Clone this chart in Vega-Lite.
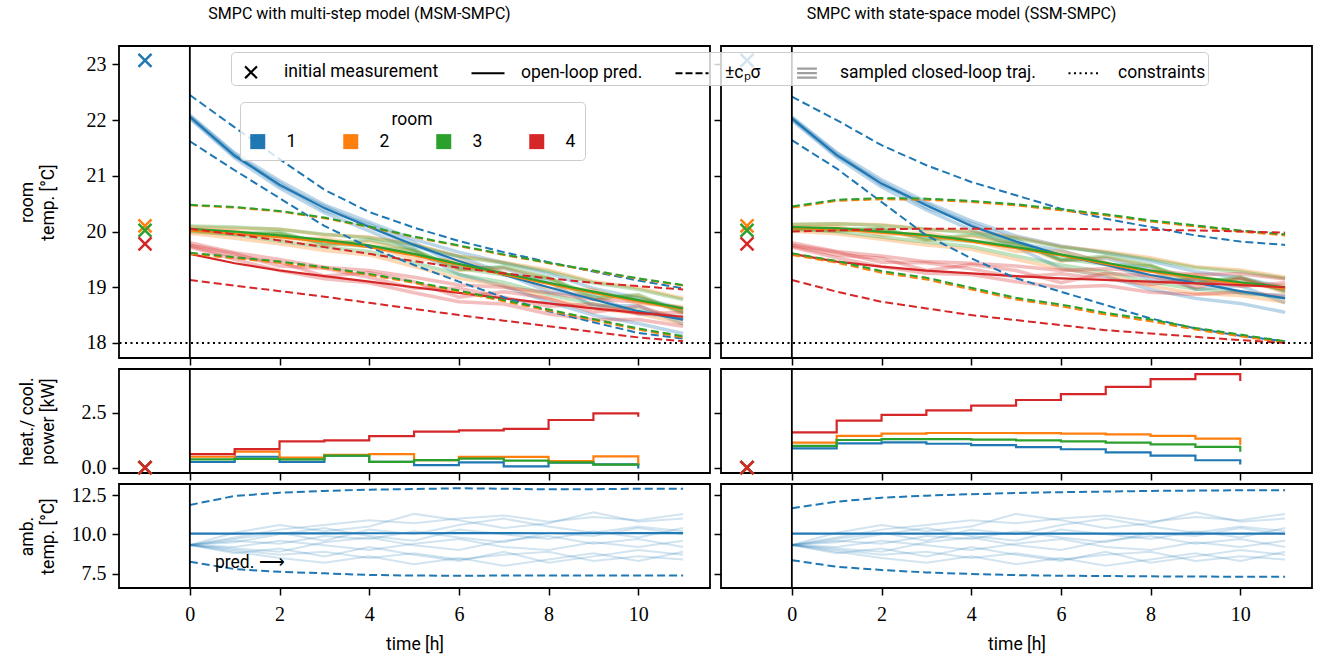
{
"$schema": "https://vega.github.io/schema/vega-lite/v6.json",
"padding": {"left": 17, "top": 5, "right": 2, "bottom": 2},
"datasets": {
"room": [
{"p":"M","r":"1","t":0,"m":22.06,"lo":21.62,"hi":22.45,"s1":22.09,"s2":22.03,"s3":22.07,"s4":22.05},
{"p":"M","r":"1","t":1,"m":21.36,"lo":21.1,"hi":21.87,"s1":21.41,"s2":21.32,"s3":21.39,"s4":21.35},
{"p":"M","r":"1","t":2,"m":20.84,"lo":20.6,"hi":21.3,"s1":20.91,"s2":20.78,"s3":20.82,"s4":20.87},
{"p":"M","r":"1","t":3,"m":20.42,"lo":20.1,"hi":20.75,"s1":20.48,"s2":20.34,"s3":20.45,"s4":20.38},
{"p":"M","r":"1","t":4,"m":20.08,"lo":19.72,"hi":20.35,"s1":20.17,"s2":20.01,"s3":20.09,"s4":20.13},
{"p":"M","r":"1","t":5,"m":19.76,"lo":19.4,"hi":20.07,"s1":19.86,"s2":19.66,"s3":19.73,"s4":19.8},
{"p":"M","r":"1","t":6,"m":19.47,"lo":19.1,"hi":19.83,"s1":19.63,"s2":19.23,"s3":19.55,"s4":19.37},
{"p":"M","r":"1","t":7,"m":19.22,"lo":18.82,"hi":19.63,"s1":19.44,"s2":19.02,"s3":19.25,"s4":19.34},
{"p":"M","r":"1","t":8,"m":19.0,"lo":18.57,"hi":19.45,"s1":19.25,"s2":18.74,"s3":18.92,"s4":19.1},
{"p":"M","r":"1","t":9,"m":18.78,"lo":18.37,"hi":19.28,"s1":18.98,"s2":18.5,"s3":18.84,"s4":18.66},
{"p":"M","r":"1","t":10,"m":18.57,"lo":18.18,"hi":19.12,"s1":18.81,"s2":18.35,"s3":18.53,"s4":18.67},
{"p":"M","r":"1","t":11,"m":18.42,"lo":18.08,"hi":18.98,"s1":18.62,"s2":18.17,"s3":18.47,"s4":18.34},
{"p":"M","r":"2","t":0,"m":20.02,"lo":19.6,"hi":20.47,"s1":20.08,"s2":19.97,"s3":20.04,"s4":20.0},
{"p":"M","r":"2","t":1,"m":19.96,"lo":19.52,"hi":20.43,"s1":20.06,"s2":19.88,"s3":20.01,"s4":19.94},
{"p":"M","r":"2","t":2,"m":19.9,"lo":19.44,"hi":20.36,"s1":20.04,"s2":19.78,"s3":19.86,"s4":19.96},
{"p":"M","r":"2","t":3,"m":19.82,"lo":19.34,"hi":20.24,"s1":19.94,"s2":19.66,"s3":19.88,"s4":19.74},
{"p":"M","r":"2","t":4,"m":19.72,"lo":19.22,"hi":20.08,"s1":19.9,"s2":19.58,"s3":19.74,"s4":19.82},
{"p":"M","r":"2","t":5,"m":19.57,"lo":19.08,"hi":19.9,"s1":19.77,"s2":19.37,"s3":19.51,"s4":19.65},
{"p":"M","r":"2","t":6,"m":19.4,"lo":18.92,"hi":19.74,"s1":19.56,"s2":19.16,"s3":19.48,"s4":19.3},
{"p":"M","r":"2","t":7,"m":19.23,"lo":18.75,"hi":19.58,"s1":19.45,"s2":19.03,"s3":19.26,"s4":19.35},
{"p":"M","r":"2","t":8,"m":19.06,"lo":18.58,"hi":19.43,"s1":19.31,"s2":18.8,"s3":18.98,"s4":19.16},
{"p":"M","r":"2","t":9,"m":18.9,"lo":18.41,"hi":19.29,"s1":19.1,"s2":18.62,"s3":18.96,"s4":18.78},
{"p":"M","r":"2","t":10,"m":18.75,"lo":18.24,"hi":19.15,"s1":18.99,"s2":18.53,"s3":18.71,"s4":18.85},
{"p":"M","r":"2","t":11,"m":18.6,"lo":18.1,"hi":19.03,"s1":18.8,"s2":18.35,"s3":18.65,"s4":18.52},
{"p":"M","r":"3","t":0,"m":20.05,"lo":19.62,"hi":20.48,"s1":20.03,"s2":20.03,"s3":20.1,"s4":20.01},
{"p":"M","r":"3","t":1,"m":20.0,"lo":19.54,"hi":20.44,"s1":19.98,"s2":19.95,"s3":20.08,"s4":19.94},
{"p":"M","r":"3","t":2,"m":19.93,"lo":19.46,"hi":20.37,"s1":19.99,"s2":19.97,"s3":20.04,"s4":19.83},
{"p":"M","r":"3","t":3,"m":19.85,"lo":19.36,"hi":20.25,"s1":19.77,"s2":19.79,"s3":19.95,"s4":19.72},
{"p":"M","r":"3","t":4,"m":19.75,"lo":19.24,"hi":20.09,"s1":19.85,"s2":19.73,"s3":19.89,"s4":19.64},
{"p":"M","r":"3","t":5,"m":19.6,"lo":19.1,"hi":19.91,"s1":19.68,"s2":19.66,"s3":19.76,"s4":19.44},
{"p":"M","r":"3","t":6,"m":19.42,"lo":18.94,"hi":19.75,"s1":19.32,"s2":19.34,"s3":19.55,"s4":19.23},
{"p":"M","r":"3","t":7,"m":19.25,"lo":18.77,"hi":19.59,"s1":19.37,"s2":19.22,"s3":19.43,"s4":19.09},
{"p":"M","r":"3","t":8,"m":19.08,"lo":18.6,"hi":19.44,"s1":19.18,"s2":19.16,"s3":19.28,"s4":18.87},
{"p":"M","r":"3","t":9,"m":18.92,"lo":18.43,"hi":19.3,"s1":18.8,"s2":18.86,"s3":19.08,"s4":18.7},
{"p":"M","r":"3","t":10,"m":18.77,"lo":18.26,"hi":19.16,"s1":18.87,"s2":18.81,"s3":18.96,"s4":18.59},
{"p":"M","r":"3","t":11,"m":18.62,"lo":18.12,"hi":19.04,"s1":18.54,"s2":18.57,"s3":18.78,"s4":18.42},
{"p":"M","r":"4","t":0,"m":19.6,"lo":19.13,"hi":20.05,"s1":19.8,"s2":19.72,"s3":19.76,"s4":19.74},
{"p":"M","r":"4","t":1,"m":19.43,"lo":19.03,"hi":19.95,"s1":19.62,"s2":19.5,"s3":19.6,"s4":19.55},
{"p":"M","r":"4","t":2,"m":19.3,"lo":18.93,"hi":19.84,"s1":19.5,"s2":19.3,"s3":19.38,"s4":19.45},
{"p":"M","r":"4","t":3,"m":19.2,"lo":18.83,"hi":19.72,"s1":19.36,"s2":19.15,"s3":19.34,"s4":19.2},
{"p":"M","r":"4","t":4,"m":19.1,"lo":18.72,"hi":19.6,"s1":19.3,"s2":19.08,"s3":19.18,"s4":19.26},
{"p":"M","r":"4","t":5,"m":19.0,"lo":18.61,"hi":19.47,"s1":19.18,"s2":18.9,"s3":18.98,"s4":19.1},
{"p":"M","r":"4","t":6,"m":18.9,"lo":18.5,"hi":19.35,"s1":19.04,"s2":18.74,"s3":18.98,"s4":18.82},
{"p":"M","r":"4","t":7,"m":18.8,"lo":18.4,"hi":19.25,"s1":19.0,"s2":18.7,"s3":18.82,"s4":18.92},
{"p":"M","r":"4","t":8,"m":18.71,"lo":18.3,"hi":19.16,"s1":18.9,"s2":18.52,"s3":18.66,"s4":18.8},
{"p":"M","r":"4","t":9,"m":18.62,"lo":18.2,"hi":19.08,"s1":18.78,"s2":18.42,"s3":18.7,"s4":18.55},
{"p":"M","r":"4","t":10,"m":18.54,"lo":18.1,"hi":19.02,"s1":18.74,"s2":18.42,"s3":18.52,"s4":18.66},
{"p":"M","r":"4","t":11,"m":18.47,"lo":18.03,"hi":18.96,"s1":18.62,"s2":18.3,"s3":18.55,"s4":18.42},
{"p":"S","r":"1","t":0,"m":22.03,"lo":21.64,"hi":22.42,"s1":22.06,"s2":22.0,"s3":22.04,"s4":22.02},
{"p":"S","r":"1","t":1,"m":21.37,"lo":21.13,"hi":22.0,"s1":21.42,"s2":21.33,"s3":21.4,"s4":21.36},
{"p":"S","r":"1","t":2,"m":20.86,"lo":20.53,"hi":21.55,"s1":20.93,"s2":20.8,"s3":20.84,"s4":20.89},
{"p":"S","r":"1","t":3,"m":20.47,"lo":19.93,"hi":21.19,"s1":20.53,"s2":20.39,"s3":20.5,"s4":20.43},
{"p":"S","r":"1","t":4,"m":20.1,"lo":19.52,"hi":20.89,"s1":20.19,"s2":20.03,"s3":20.11,"s4":20.15},
{"p":"S","r":"1","t":5,"m":19.82,"lo":19.16,"hi":20.65,"s1":19.92,"s2":19.72,"s3":19.79,"s4":19.86},
{"p":"S","r":"1","t":6,"m":19.58,"lo":18.92,"hi":20.41,"s1":19.74,"s2":19.34,"s3":19.66,"s4":19.48},
{"p":"S","r":"1","t":7,"m":19.4,"lo":18.68,"hi":20.23,"s1":19.62,"s2":19.2,"s3":19.43,"s4":19.52},
{"p":"S","r":"1","t":8,"m":19.22,"lo":18.44,"hi":20.08,"s1":19.47,"s2":18.96,"s3":19.14,"s4":19.32},
{"p":"S","r":"1","t":9,"m":19.08,"lo":18.26,"hi":19.93,"s1":19.28,"s2":18.8,"s3":19.14,"s4":18.96},
{"p":"S","r":"1","t":10,"m":18.93,"lo":18.13,"hi":19.82,"s1":19.17,"s2":18.71,"s3":18.89,"s4":19.03},
{"p":"S","r":"1","t":11,"m":18.8,"lo":18.03,"hi":19.76,"s1":19.0,"s2":18.55,"s3":18.85,"s4":18.72},
{"p":"S","r":"2","t":0,"m":20.06,"lo":19.58,"hi":20.43,"s1":20.12,"s2":20.01,"s3":20.08,"s4":20.04},
{"p":"S","r":"2","t":1,"m":20.04,"lo":19.44,"hi":20.55,"s1":20.14,"s2":19.96,"s3":20.09,"s4":20.02},
{"p":"S","r":"2","t":2,"m":19.98,"lo":19.26,"hi":20.58,"s1":20.12,"s2":19.86,"s3":19.94,"s4":20.04},
{"p":"S","r":"2","t":3,"m":19.92,"lo":19.14,"hi":20.57,"s1":20.04,"s2":19.76,"s3":19.98,"s4":19.84},
{"p":"S","r":"2","t":4,"m":19.82,"lo":18.96,"hi":20.53,"s1":20.0,"s2":19.68,"s3":19.84,"s4":19.92},
{"p":"S","r":"2","t":5,"m":19.7,"lo":18.78,"hi":20.47,"s1":19.9,"s2":19.5,"s3":19.64,"s4":19.78},
{"p":"S","r":"2","t":6,"m":19.57,"lo":18.66,"hi":20.38,"s1":19.73,"s2":19.33,"s3":19.65,"s4":19.47},
{"p":"S","r":"2","t":7,"m":19.42,"lo":18.51,"hi":20.29,"s1":19.64,"s2":19.22,"s3":19.45,"s4":19.54},
{"p":"S","r":"2","t":8,"m":19.28,"lo":18.39,"hi":20.18,"s1":19.53,"s2":19.02,"s3":19.2,"s4":19.38},
{"p":"S","r":"2","t":9,"m":19.17,"lo":18.24,"hi":20.09,"s1":19.37,"s2":18.89,"s3":19.23,"s4":19.05},
{"p":"S","r":"2","t":10,"m":19.07,"lo":18.12,"hi":20.0,"s1":19.31,"s2":18.85,"s3":19.03,"s4":19.17},
{"p":"S","r":"2","t":11,"m":18.98,"lo":18.01,"hi":19.93,"s1":19.18,"s2":18.73,"s3":19.03,"s4":18.9},
{"p":"S","r":"3","t":0,"m":20.08,"lo":19.61,"hi":20.45,"s1":20.06,"s2":20.06,"s3":20.13,"s4":20.04},
{"p":"S","r":"3","t":1,"m":20.06,"lo":19.47,"hi":20.57,"s1":20.04,"s2":20.01,"s3":20.14,"s4":20.0},
{"p":"S","r":"3","t":2,"m":20.0,"lo":19.29,"hi":20.6,"s1":20.06,"s2":20.04,"s3":20.11,"s4":19.9},
{"p":"S","r":"3","t":3,"m":19.94,"lo":19.17,"hi":20.59,"s1":19.86,"s2":19.88,"s3":20.04,"s4":19.81},
{"p":"S","r":"3","t":4,"m":19.84,"lo":18.99,"hi":20.55,"s1":19.94,"s2":19.82,"s3":19.98,"s4":19.73},
{"p":"S","r":"3","t":5,"m":19.72,"lo":18.81,"hi":20.49,"s1":19.8,"s2":19.78,"s3":19.88,"s4":19.56},
{"p":"S","r":"3","t":6,"m":19.59,"lo":18.69,"hi":20.4,"s1":19.49,"s2":19.51,"s3":19.72,"s4":19.4},
{"p":"S","r":"3","t":7,"m":19.44,"lo":18.54,"hi":20.31,"s1":19.56,"s2":19.41,"s3":19.62,"s4":19.28},
{"p":"S","r":"3","t":8,"m":19.3,"lo":18.42,"hi":20.2,"s1":19.4,"s2":19.38,"s3":19.5,"s4":19.09},
{"p":"S","r":"3","t":9,"m":19.19,"lo":18.27,"hi":20.11,"s1":19.07,"s2":19.13,"s3":19.35,"s4":18.97},
{"p":"S","r":"3","t":10,"m":19.09,"lo":18.15,"hi":20.02,"s1":19.19,"s2":19.13,"s3":19.28,"s4":18.91},
{"p":"S","r":"3","t":11,"m":19.0,"lo":18.03,"hi":19.95,"s1":18.92,"s2":18.95,"s3":19.16,"s4":18.8},
{"p":"S","r":"4","t":0,"m":19.6,"lo":19.13,"hi":20.0,"s1":19.8,"s2":19.72,"s3":19.76,"s4":19.74},
{"p":"S","r":"4","t":1,"m":19.46,"lo":18.92,"hi":20.02,"s1":19.64,"s2":19.53,"s3":19.63,"s4":19.58},
{"p":"S","r":"4","t":2,"m":19.37,"lo":18.74,"hi":20.04,"s1":19.56,"s2":19.37,"s3":19.45,"s4":19.52},
{"p":"S","r":"4","t":3,"m":19.3,"lo":18.62,"hi":20.05,"s1":19.46,"s2":19.25,"s3":19.44,"s4":19.3},
{"p":"S","r":"4","t":4,"m":19.25,"lo":18.5,"hi":20.05,"s1":19.43,"s2":19.23,"s3":19.33,"s4":19.41},
{"p":"S","r":"4","t":5,"m":19.2,"lo":18.41,"hi":20.05,"s1":19.38,"s2":19.1,"s3":19.18,"s4":19.3},
{"p":"S","r":"4","t":6,"m":19.16,"lo":18.32,"hi":20.05,"s1":19.3,"s2":19.0,"s3":19.24,"s4":19.08},
{"p":"S","r":"4","t":7,"m":19.13,"lo":18.23,"hi":20.04,"s1":19.33,"s2":19.03,"s3":19.15,"s4":19.25},
{"p":"S","r":"4","t":8,"m":19.1,"lo":18.17,"hi":20.03,"s1":19.29,"s2":18.91,"s3":19.05,"s4":19.2},
{"p":"S","r":"4","t":9,"m":19.07,"lo":18.11,"hi":20.02,"s1":19.23,"s2":18.87,"s3":19.15,"s4":18.99},
{"p":"S","r":"4","t":10,"m":19.04,"lo":18.05,"hi":20.0,"s1":19.24,"s2":18.92,"s3":19.02,"s4":19.16},
{"p":"S","r":"4","t":11,"m":19.0,"lo":18.0,"hi":19.98,"s1":19.15,"s2":18.83,"s3":19.08,"s4":18.95}
],
"pow": [
{"p":"M","r":"1","t":0,"u":0.26},{"p":"M","r":"1","t":1,"u":0.5},{"p":"M","r":"1","t":2,"u":0.27},{"p":"M","r":"1","t":3,"u":0.55},{"p":"M","r":"1","t":4,"u":0.27},{"p":"M","r":"1","t":5,"u":0.12},{"p":"M","r":"1","t":6,"u":0.24},{"p":"M","r":"1","t":7,"u":0.06},{"p":"M","r":"1","t":8,"u":0.23},{"p":"M","r":"1","t":9,"u":0.15},{"p":"M","r":"1","t":10,"u":-0.03},
{"p":"M","r":"2","t":0,"u":0.5},{"p":"M","r":"2","t":1,"u":0.73},{"p":"M","r":"2","t":2,"u":0.46},{"p":"M","r":"2","t":3,"u":0.58},{"p":"M","r":"2","t":4,"u":0.62},{"p":"M","r":"2","t":5,"u":0.35},{"p":"M","r":"2","t":6,"u":0.49},{"p":"M","r":"2","t":7,"u":0.49},{"p":"M","r":"2","t":8,"u":0.3},{"p":"M","r":"2","t":9,"u":0.52},{"p":"M","r":"2","t":10,"u":0.12},
{"p":"M","r":"3","t":0,"u":0.38},{"p":"M","r":"3","t":1,"u":0.4},{"p":"M","r":"3","t":2,"u":0.38},{"p":"M","r":"3","t":3,"u":0.55},{"p":"M","r":"3","t":4,"u":0.27},{"p":"M","r":"3","t":5,"u":0.35},{"p":"M","r":"3","t":6,"u":0.41},{"p":"M","r":"3","t":7,"u":0.32},{"p":"M","r":"3","t":8,"u":0.24},{"p":"M","r":"3","t":9,"u":0.14},{"p":"M","r":"3","t":10,"u":0.1},
{"p":"M","r":"4","t":0,"u":0.62},{"p":"M","r":"4","t":1,"u":0.85},{"p":"M","r":"4","t":2,"u":1.2},{"p":"M","r":"4","t":3,"u":1.24},{"p":"M","r":"4","t":4,"u":1.44},{"p":"M","r":"4","t":5,"u":1.64},{"p":"M","r":"4","t":6,"u":1.7},{"p":"M","r":"4","t":7,"u":1.77},{"p":"M","r":"4","t":8,"u":2.17},{"p":"M","r":"4","t":9,"u":2.47},{"p":"M","r":"4","t":10,"u":2.32},
{"p":"S","r":"1","t":0,"u":0.88},{"p":"S","r":"1","t":1,"u":1.11},{"p":"S","r":"1","t":2,"u":1.15},{"p":"S","r":"1","t":3,"u":1.09},{"p":"S","r":"1","t":4,"u":1.03},{"p":"S","r":"1","t":5,"u":0.94},{"p":"S","r":"1","t":6,"u":0.84},{"p":"S","r":"1","t":7,"u":0.7},{"p":"S","r":"1","t":8,"u":0.55},{"p":"S","r":"1","t":9,"u":0.34},{"p":"S","r":"1","t":10,"u":0.15},
{"p":"S","r":"2","t":0,"u":1.14},{"p":"S","r":"2","t":1,"u":1.45},{"p":"S","r":"2","t":2,"u":1.55},{"p":"S","r":"2","t":3,"u":1.58},{"p":"S","r":"2","t":4,"u":1.58},{"p":"S","r":"2","t":5,"u":1.57},{"p":"S","r":"2","t":6,"u":1.55},{"p":"S","r":"2","t":7,"u":1.52},{"p":"S","r":"2","t":8,"u":1.45},{"p":"S","r":"2","t":9,"u":1.32},{"p":"S","r":"2","t":10,"u":1.03},
{"p":"S","r":"3","t":0,"u":0.99},{"p":"S","r":"3","t":1,"u":1.26},{"p":"S","r":"3","t":2,"u":1.3},{"p":"S","r":"3","t":3,"u":1.3},{"p":"S","r":"3","t":4,"u":1.28},{"p":"S","r":"3","t":5,"u":1.24},{"p":"S","r":"3","t":6,"u":1.2},{"p":"S","r":"3","t":7,"u":1.14},{"p":"S","r":"3","t":8,"u":1.06},{"p":"S","r":"3","t":9,"u":0.95},{"p":"S","r":"3","t":10,"u":0.73},
{"p":"S","r":"4","t":0,"u":1.61},{"p":"S","r":"4","t":1,"u":2.14},{"p":"S","r":"4","t":2,"u":2.4},{"p":"S","r":"4","t":3,"u":2.61},{"p":"S","r":"4","t":4,"u":2.82},{"p":"S","r":"4","t":5,"u":3.08},{"p":"S","r":"4","t":6,"u":3.35},{"p":"S","r":"4","t":7,"u":3.68},{"p":"S","r":"4","t":8,"u":4.03},{"p":"S","r":"4","t":9,"u":4.26},{"p":"S","r":"4","t":10,"u":3.94}
],
"amb": [
{"p":"M","t":0,"m":10.05,"lo":8.26,"hi":11.87},{"p":"M","t":1,"m":10.05,"lo":7.79,"hi":12.44},{"p":"M","t":2,"m":10.06,"lo":7.62,"hi":12.65},{"p":"M","t":3,"m":10.06,"lo":7.52,"hi":12.76},{"p":"M","t":4,"m":10.07,"lo":7.42,"hi":12.84},{"p":"M","t":5,"m":10.07,"lo":7.38,"hi":12.88},{"p":"M","t":6,"m":10.08,"lo":7.37,"hi":12.93},{"p":"M","t":7,"m":10.08,"lo":7.38,"hi":12.9},{"p":"M","t":8,"m":10.07,"lo":7.38,"hi":12.86},{"p":"M","t":9,"m":10.07,"lo":7.38,"hi":12.87},{"p":"M","t":10,"m":10.08,"lo":7.39,"hi":12.9},{"p":"M","t":11,"m":10.08,"lo":7.39,"hi":12.9},
{"p":"S","t":0,"m":10.05,"lo":8.36,"hi":11.66},{"p":"S","t":1,"m":10.05,"lo":7.94,"hi":12.08},{"p":"S","t":2,"m":10.05,"lo":7.73,"hi":12.33},{"p":"S","t":3,"m":10.05,"lo":7.58,"hi":12.46},{"p":"S","t":4,"m":10.05,"lo":7.48,"hi":12.55},{"p":"S","t":5,"m":10.05,"lo":7.41,"hi":12.63},{"p":"S","t":6,"m":10.05,"lo":7.37,"hi":12.68},{"p":"S","t":7,"m":10.05,"lo":7.35,"hi":12.72},{"p":"S","t":8,"m":10.05,"lo":7.33,"hi":12.76},{"p":"S","t":9,"m":10.05,"lo":7.32,"hi":12.78},{"p":"S","t":10,"m":10.05,"lo":7.3,"hi":12.8},{"p":"S","t":11,"m":10.05,"lo":7.3,"hi":12.8}
],
"ambs": [
{"t":0,"s1":9.32,"s2":9.32,"s3":9.32,"s4":9.32,"s5":9.32,"s6":9.32,"s7":9.32,"s8":9.32,"s9":9.32,"s10":9.32},
{"t":1,"s1":9.8,"s2":9.0,"s3":9.6,"s4":9.2,"s5":10.1,"s6":8.8,"s7":9.5,"s8":9.1,"s9":9.7,"s10":8.9},
{"t":2,"s1":10.3,"s2":8.7,"s3":9.4,"s4":9.6,"s5":10.6,"s6":9.1,"s7":10.0,"s8":8.9,"s9":10.1,"s10":8.5},
{"t":3,"s1":10.6,"s2":8.9,"s3":9.9,"s4":9.3,"s5":10.2,"s6":8.6,"s7":10.4,"s8":9.5,"s9":9.6,"s10":8.2},
{"t":4,"s1":10.9,"s2":8.5,"s3":9.7,"s4":9.0,"s5":10.5,"s6":9.2,"s7":9.9,"s8":9.8,"s9":10.3,"s10":8.6},
{"t":5,"s1":10.7,"s2":8.8,"s3":10.2,"s4":9.4,"s5":11.3,"s6":8.7,"s7":9.6,"s8":9.3,"s9":10.0,"s10":8.1},
{"t":6,"s1":11.0,"s2":8.4,"s3":9.8,"s4":9.7,"s5":10.9,"s6":8.3,"s7":10.3,"s8":9.0,"s9":10.6,"s10":8.5},
{"t":7,"s1":11.2,"s2":8.7,"s3":9.5,"s4":9.2,"s5":10.4,"s6":8.9,"s7":10.0,"s8":9.6,"s9":11.0,"s10":8.0},
{"t":8,"s1":10.8,"s2":8.9,"s3":10.1,"s4":9.0,"s5":10.7,"s6":8.2,"s7":9.7,"s8":9.9,"s9":10.5,"s10":8.4},
{"t":9,"s1":11.1,"s2":8.3,"s3":9.9,"s4":9.5,"s5":11.4,"s6":8.6,"s7":10.2,"s8":9.4,"s9":10.1,"s10":8.8},
{"t":10,"s1":10.9,"s2":8.6,"s3":10.4,"s4":9.2,"s5":10.8,"s6":9.0,"s7":9.8,"s8":9.7,"s9":10.5,"s10":8.3},
{"t":11,"s1":11.3,"s2":8.4,"s3":10.0,"s4":9.6,"s5":11.0,"s6":8.7,"s7":10.4,"s8":9.2,"s9":10.2,"s10":8.9}
],
"init": [
{"p":"M","r":"1","T":23.07,"U":0},{"p":"M","r":"2","T":20.1,"U":0},{"p":"M","r":"3","T":20.02,"U":0},{"p":"M","r":"4","T":19.78,"U":0},
{"p":"S","r":"1","T":23.07,"U":0},{"p":"S","r":"2","T":20.1,"U":0},{"p":"S","r":"3","T":20.02,"U":0},{"p":"S","r":"4","T":19.78,"U":0}
]
},
"concat": [
{
"width": 591, "height": 312,
"title": {"text": "SMPC with multi-step model (MSM-SMPC)", "dx": -55, "offset": 10, "baseline": "alphabetic"},
"layer": [
{"data": {"name": "init"}, "transform": [{"filter": "datum.p==='M'"}],
 "mark": {"type": "square", "size": 225, "opacity": 0},
 "encoding": {
  "x": {"datum": -1, "type": "quantitative", "scale": {"domain": [-1.58, 11.6], "nice": false, "zero": false}, "axis": {"values": [0,2,4,6,8,10], "labels": false, "title": null}},
  "y": {"field": "T", "type": "quantitative", "scale": {"domain": [17.73, 23.33], "nice": false, "zero": false}, "axis": {"values": [18,19,20,21,22,23], "format": "d", "title": ["room", "temp. [°C]"]}},
  "color": {"field": "r", "type": "nominal", "scale": {"domain": ["1","2","3","4"], "range": ["#1f77b4","#ff7f0e","#2ca02c","#d62728"]},
   "legend": {"title": "room", "orient": "none", "legendX": 121, "legendY": 56, "direction": "horizontal", "columns": 4, "labelOffset": 20, "columnPadding": 45, "padding": 9, "titleAnchor": "middle", "titlePadding": 4, "fillColor": "rgba(255,255,255,0.8)", "strokeColor": "#cccccc", "cornerRadius": 4, "symbolOpacity": 1, "symbolSize": 225, "symbolType": "square", "symbolStrokeWidth": 0}}}},
{"data": {"name": "room"}, "transform": [{"filter": "datum.p==='M'"}, {"fold": ["s1","s2","s3","s4"], "as": ["k","v"]}],
 "mark": {"type": "line", "strokeWidth": 3.5, "strokeOpacity": 0.3},
 "encoding": {"x": {"field": "t", "type": "quantitative"}, "y": {"field": "v", "type": "quantitative"}, "color": {"field": "r", "type": "nominal"}, "detail": {"field": "k", "type": "nominal"}}},
{"data": {"name": "room"}, "transform": [{"filter": "datum.p==='M'"}],
 "mark": {"type": "line", "strokeWidth": 2.2},
 "encoding": {"x": {"field": "t", "type": "quantitative"}, "y": {"field": "m", "type": "quantitative"}, "color": {"field": "r", "type": "nominal"}}},
{"data": {"name": "room"}, "transform": [{"filter": "datum.p==='M'"}],
 "mark": {"type": "line", "strokeWidth": 2, "strokeDash": [8, 4]},
 "encoding": {"x": {"field": "t", "type": "quantitative"}, "y": {"field": "lo", "type": "quantitative"}, "color": {"field": "r", "type": "nominal"}}},
{"data": {"name": "room"}, "transform": [{"filter": "datum.p==='M'"}],
 "mark": {"type": "line", "strokeWidth": 2, "strokeDash": [8, 4]},
 "encoding": {"x": {"field": "t", "type": "quantitative"}, "y": {"field": "hi", "type": "quantitative"}, "color": {"field": "r", "type": "nominal"}}},
{"data": {"values": [{}]}, "mark": {"type": "rule", "color": "black", "strokeWidth": 1.8}, "encoding": {"x": {"datum": 0, "type": "quantitative"}}},
{"data": {"values": [{}]}, "mark": {"type": "rule", "color": "black", "strokeWidth": 2, "strokeDash": [2, 3.5]}, "encoding": {"y": {"datum": 18, "type": "quantitative"}}},
{"data": {"name": "init"}, "transform": [{"filter": "datum.p==='M'"}],
 "mark": {"type": "point", "shape": "M-1,-1L1,1M-1,1L1,-1", "size": 169, "strokeWidth": 2.5, "filled": false, "opacity": 1},
 "encoding": {"x": {"datum": -1, "type": "quantitative"}, "y": {"field": "T", "type": "quantitative"}, "color": {"field": "r", "type": "nominal"}}}
]
},
{
"width": 591, "height": 312,
"title": {"text": "SMPC with state-space model (SSM-SMPC)", "dx": -55, "offset": 10, "baseline": "alphabetic"},
"layer": [
{"data": {"name": "room"}, "transform": [{"filter": "datum.p==='S'"}, {"fold": ["s1","s2","s3","s4"], "as": ["k","v"]}],
 "mark": {"type": "line", "strokeWidth": 3.5, "strokeOpacity": 0.3},
 "encoding": {
  "x": {"field": "t", "type": "quantitative", "scale": {"domain": [-1.58, 11.6], "nice": false, "zero": false}, "axis": {"values": [0,2,4,6,8,10], "labels": false, "title": null}},
  "y": {"field": "v", "type": "quantitative", "scale": {"domain": [17.73, 23.33], "nice": false, "zero": false}, "axis": {"values": [18,19,20,21,22,23], "labels": false, "title": null}},
  "color": {"field": "r", "type": "nominal", "scale": {"domain": ["1","2","3","4"], "range": ["#1f77b4","#ff7f0e","#2ca02c","#d62728"]}, "legend": null},
  "detail": {"field": "k", "type": "nominal"}}},
{"data": {"name": "room"}, "transform": [{"filter": "datum.p==='S'"}],
 "mark": {"type": "line", "strokeWidth": 2.2},
 "encoding": {"x": {"field": "t", "type": "quantitative"}, "y": {"field": "m", "type": "quantitative"}, "color": {"field": "r", "type": "nominal", "legend": null}}},
{"data": {"name": "room"}, "transform": [{"filter": "datum.p==='S'"}],
 "mark": {"type": "line", "strokeWidth": 2, "strokeDash": [8, 4]},
 "encoding": {"x": {"field": "t", "type": "quantitative"}, "y": {"field": "lo", "type": "quantitative"}, "color": {"field": "r", "type": "nominal", "legend": null}}},
{"data": {"name": "room"}, "transform": [{"filter": "datum.p==='S'"}],
 "mark": {"type": "line", "strokeWidth": 2, "strokeDash": [8, 4]},
 "encoding": {"x": {"field": "t", "type": "quantitative"}, "y": {"field": "hi", "type": "quantitative"}, "color": {"field": "r", "type": "nominal", "legend": null}}},
{"data": {"values": [{}]}, "mark": {"type": "rule", "color": "black", "strokeWidth": 1.8}, "encoding": {"x": {"datum": 0, "type": "quantitative"}}},
{"data": {"values": [{}]}, "mark": {"type": "rule", "color": "black", "strokeWidth": 2, "strokeDash": [2, 3.5]}, "encoding": {"y": {"datum": 18, "type": "quantitative"}}},
{"data": {"name": "init"}, "transform": [{"filter": "datum.p==='S'"}],
 "mark": {"type": "point", "shape": "M-1,-1L1,1M-1,1L1,-1", "size": 169, "strokeWidth": 2.5, "filled": false, "opacity": 1},
 "encoding": {"x": {"datum": -1, "type": "quantitative"}, "y": {"field": "T", "type": "quantitative"}, "color": {"field": "r", "type": "nominal", "legend": null}}},
{"data": {"values": [{"k": "initial measurement"}, {"k": "open-loop pred."}, {"k": "±cₚσ"}, {"k": "sampled closed-loop traj."}, {"k": "constraints"}]},
 "mark": {"type": "point", "opacity": 0, "filled": false},
 "encoding": {
  "shape": {"field": "k", "type": "nominal",
   "scale": {"domain": ["initial measurement", "open-loop pred.", "±cₚσ", "sampled closed-loop traj.", "constraints"], "range": ["M-0.36,-0.36L0.36,0.36M-0.36,0.36L0.36,-0.36", "M-1,0H1", "M-1,0H1", "M-0.6,-0.27H0.6M-0.6,0H0.6M-0.6,0.27H0.6", "M-1,0H1"]},
   "legend": {"title": null, "orient": "none", "legendX": -490, "legendY": 6, "direction": "horizontal", "columns": 5, "symbolSize": 1089, "labelOffset": 15, "columnPadding": 28, "padding": 2, "fillColor": "rgba(255,255,255,0.8)", "strokeColor": "#cccccc", "cornerRadius": 4, "symbolOpacity": 1, "symbolStrokeWidth": 2.2, "symbolFillColor": "transparent"}},
  "strokeDash": {"field": "k", "type": "nominal",
   "scale": {"domain": ["initial measurement", "open-loop pred.", "±cₚσ", "sampled closed-loop traj.", "constraints"], "range": [[1, 0], [1, 0], [7, 3], [1, 0], [2, 3.5]]}},
  "stroke": {"field": "k", "type": "nominal",
   "scale": {"domain": ["initial measurement", "open-loop pred.", "±cₚσ", "sampled closed-loop traj.", "constraints"], "range": ["black", "black", "black", "#9e9e9e", "black"]}}}}
]
},
{
"width": 591, "height": 104,
"layer": [
{"data": {"name": "pow"}, "transform": [{"filter": "datum.p==='M'"}],
 "mark": {"type": "line", "interpolate": "step-after", "strokeWidth": 2.2},
 "encoding": {
  "x": {"field": "t", "type": "quantitative", "scale": {"domain": [-1.58, 11.6], "nice": false, "zero": false}, "axis": {"values": [0,2,4,6,8,10], "labels": false, "title": null}},
  "y": {"field": "u", "type": "quantitative", "scale": {"domain": [-0.24, 4.49], "nice": false, "zero": false}, "axis": {"values": [0, 2.5], "format": ".1f", "title": ["heat./ cool.", "power [kW]"]}},
  "color": {"field": "r", "type": "nominal", "scale": {"domain": ["1","2","3","4"], "range": ["#1f77b4","#ff7f0e","#2ca02c","#d62728"]}, "legend": null}}},
{"data": {"values": [{}]}, "mark": {"type": "rule", "color": "black", "strokeWidth": 1.8}, "encoding": {"x": {"datum": 0, "type": "quantitative"}}},
{"data": {"name": "init"}, "transform": [{"filter": "datum.p==='M'"}],
 "mark": {"type": "point", "shape": "M-1,-1L1,1M-1,1L1,-1", "size": 169, "strokeWidth": 2.5, "filled": false, "opacity": 1},
 "encoding": {"x": {"datum": -1, "type": "quantitative"}, "y": {"field": "U", "type": "quantitative"}, "color": {"field": "r", "type": "nominal", "legend": null}}}
]
},
{
"width": 591, "height": 104,
"layer": [
{"data": {"name": "pow"}, "transform": [{"filter": "datum.p==='S'"}],
 "mark": {"type": "line", "interpolate": "step-after", "strokeWidth": 2.2},
 "encoding": {
  "x": {"field": "t", "type": "quantitative", "scale": {"domain": [-1.58, 11.6], "nice": false, "zero": false}, "axis": {"values": [0,2,4,6,8,10], "labels": false, "title": null}},
  "y": {"field": "u", "type": "quantitative", "scale": {"domain": [-0.24, 4.49], "nice": false, "zero": false}, "axis": {"values": [0, 2.5], "labels": false, "title": null}},
  "color": {"field": "r", "type": "nominal", "scale": {"domain": ["1","2","3","4"], "range": ["#1f77b4","#ff7f0e","#2ca02c","#d62728"]}, "legend": null}}},
{"data": {"values": [{}]}, "mark": {"type": "rule", "color": "black", "strokeWidth": 1.8}, "encoding": {"x": {"datum": 0, "type": "quantitative"}}},
{"data": {"name": "init"}, "transform": [{"filter": "datum.p==='S'"}],
 "mark": {"type": "point", "shape": "M-1,-1L1,1M-1,1L1,-1", "size": 169, "strokeWidth": 2.5, "filled": false, "opacity": 1},
 "encoding": {"x": {"datum": -1, "type": "quantitative"}, "y": {"field": "U", "type": "quantitative"}, "color": {"field": "r", "type": "nominal", "legend": null}}}
]
},
{
"width": 591, "height": 104,
"layer": [
{"data": {"name": "ambs"}, "transform": [{"fold": ["s1","s2","s3","s4","s5","s6","s7","s8","s9","s10"], "as": ["k","v"]}],
 "mark": {"type": "line", "color": "#1f77b4", "strokeWidth": 2, "strokeOpacity": 0.2},
 "encoding": {
  "x": {"field": "t", "type": "quantitative", "scale": {"domain": [-1.58, 11.6], "nice": false, "zero": false}, "axis": {"values": [0,2,4,6,8,10], "title": "time [h]", "labelPadding": 9}},
  "y": {"field": "v", "type": "quantitative", "scale": {"domain": [6.59, 13.2], "nice": false, "zero": false}, "axis": {"values": [7.5, 10, 12.5], "format": ".1f", "title": ["amb.", "temp. [°C]"]}},
  "detail": {"field": "k", "type": "nominal"}}},
{"data": {"name": "amb"}, "transform": [{"filter": "datum.p==='M'"}],
 "mark": {"type": "line", "color": "#1f77b4", "strokeWidth": 2.2},
 "encoding": {"x": {"field": "t", "type": "quantitative"}, "y": {"field": "m", "type": "quantitative"}}},
{"data": {"name": "amb"}, "transform": [{"filter": "datum.p==='M'"}],
 "mark": {"type": "line", "color": "#1f77b4", "strokeWidth": 2, "strokeDash": [8, 4]},
 "encoding": {"x": {"field": "t", "type": "quantitative"}, "y": {"field": "lo", "type": "quantitative"}}},
{"data": {"name": "amb"}, "transform": [{"filter": "datum.p==='M'"}],
 "mark": {"type": "line", "color": "#1f77b4", "strokeWidth": 2, "strokeDash": [8, 4]},
 "encoding": {"x": {"field": "t", "type": "quantitative"}, "y": {"field": "hi", "type": "quantitative"}}},
{"data": {"values": [{}]}, "mark": {"type": "rule", "color": "black", "strokeWidth": 1.8}, "encoding": {"x": {"datum": 0, "type": "quantitative"}}},
{"data": {"values": [{}]}, "mark": {"type": "text", "text": "pred. ⟶", "align": "left", "baseline": "middle", "fontSize": 17.5, "font": "Roboto", "color": "black"},
 "encoding": {"x": {"datum": 0.56, "type": "quantitative"}, "y": {"datum": 8.17, "type": "quantitative"}}}
]
},
{
"width": 591, "height": 104,
"layer": [
{"data": {"name": "ambs"}, "transform": [{"fold": ["s1","s2","s3","s4","s5","s6","s7","s8","s9","s10"], "as": ["k","v"]}],
 "mark": {"type": "line", "color": "#1f77b4", "strokeWidth": 2, "strokeOpacity": 0.2},
 "encoding": {
  "x": {"field": "t", "type": "quantitative", "scale": {"domain": [-1.58, 11.6], "nice": false, "zero": false}, "axis": {"values": [0,2,4,6,8,10], "title": "time [h]", "labelPadding": 9}},
  "y": {"field": "v", "type": "quantitative", "scale": {"domain": [6.59, 13.2], "nice": false, "zero": false}, "axis": {"values": [7.5, 10, 12.5], "labels": false, "title": null}},
  "detail": {"field": "k", "type": "nominal"}}},
{"data": {"name": "amb"}, "transform": [{"filter": "datum.p==='S'"}],
 "mark": {"type": "line", "color": "#1f77b4", "strokeWidth": 2.2},
 "encoding": {"x": {"field": "t", "type": "quantitative"}, "y": {"field": "m", "type": "quantitative"}}},
{"data": {"name": "amb"}, "transform": [{"filter": "datum.p==='S'"}],
 "mark": {"type": "line", "color": "#1f77b4", "strokeWidth": 2, "strokeDash": [8, 4]},
 "encoding": {"x": {"field": "t", "type": "quantitative"}, "y": {"field": "lo", "type": "quantitative"}}},
{"data": {"name": "amb"}, "transform": [{"filter": "datum.p==='S'"}],
 "mark": {"type": "line", "color": "#1f77b4", "strokeWidth": 2, "strokeDash": [8, 4]},
 "encoding": {"x": {"field": "t", "type": "quantitative"}, "y": {"field": "hi", "type": "quantitative"}}},
{"data": {"values": [{}]}, "mark": {"type": "rule", "color": "black", "strokeWidth": 1.8}, "encoding": {"x": {"datum": 0, "type": "quantitative"}}}
]
}
],
"columns": 2,
"spacing": 11,
"bounds": "flush",
"align": "each",
"resolve": {"scale": {"color": "independent", "shape": "independent", "strokeDash": "independent", "stroke": "independent"}},
"config": {
 "font": "Roboto",
 "view": {"stroke": "black", "strokeWidth": 1.8},
 "axis": {"grid": false, "domain": false, "ticks": true, "tickColor": "black", "tickWidth": 1.5, "tickSize": 7, "labelFont": "Liberation Serif", "labelFontSize": 20, "labelColor": "black", "labelPadding": 4, "titleFont": "Roboto", "titleFontSize": 17.5, "titleFontWeight": "normal", "titleColor": "black"},
 "axisY": {"titlePadding": 14, "minExtent": 48, "maxExtent": 48, "labelPadding": 6, "titleLineHeight": 21},
 "axisX": {"titlePadding": 11},
 "title": {"font": "Roboto", "fontSize": 16, "fontWeight": "normal", "color": "black"},
 "legend": {"labelFont": "Roboto", "labelFontSize": 17.5, "titleFont": "Roboto", "titleFontSize": 17.5, "titleFontWeight": "normal", "labelColor": "black", "titleColor": "black", "labelLimit": 400}
}
}
